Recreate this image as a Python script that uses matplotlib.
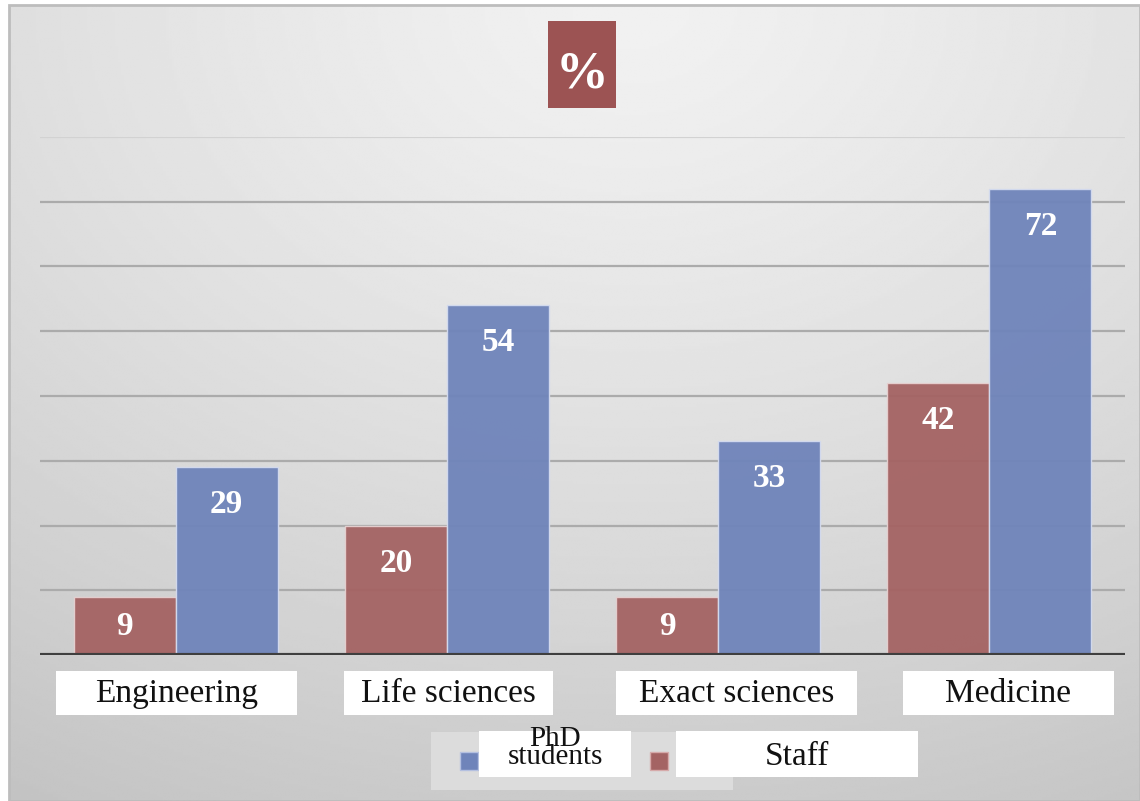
import matplotlib

matplotlib.use("Agg")
import matplotlib.pyplot as plt
import numpy as np
from matplotlib.patches import Rectangle

categories = ["Engineering", "Life sciences", "Exact sciences", "Medicine"]
staff = [9, 20, 9, 42]
phd = [29, 54, 33, 72]
series_names = ["PhD\nstudents", "Staff"]

RED = "#A46363"
BLUE = "#6F84BA"
TITLE_RED = "#9C5353"
SERIF = ["Liberation Serif", "DejaVu Serif"]

W, H = 1140, 801
fig = plt.figure(figsize=(W / 100, H / 100), dpi=100)
fig.patch.set_facecolor("white")


def fx(px):
    return px / W


def fy(py):
    return 1 - py / H


def box(x0, y0, x1, y1, color, z=2, edge="none"):
    # rectangle given in pixel coords (top-left origin)
    fig.patches.append(Rectangle((fx(x0), fy(y1)), fx(x1) - fx(x0), fy(y0) - fy(y1),
                                 transform=fig.transFigure, facecolor=color,
                                 edgecolor=edge, linewidth=1, zorder=z))


# gradient backdrop (light top centre, darker towards the corners)
bg = fig.add_axes([fx(9), 0, 1 - fx(9), fy(5)], zorder=0)
yy, xx = np.mgrid[0:1:300j, 0:1:400j]
dist = np.sqrt((xx - 0.55) ** 2 + ((yy - 0.0) * 0.95) ** 2)
shade = 0.945 - 0.16 * np.clip(dist, 0, 1.2) ** 1.3
bg.imshow(shade, cmap="gray", vmin=0, vmax=1, aspect="auto",
          extent=[0, 1, 1, 0], interpolation="bilinear")
bg.set_xlim(0, 1)
bg.set_ylim(1, 0)
bg.axis("off")
bg.add_patch(Rectangle((0, 0), 1, 1, transform=bg.transAxes, fill=False,
                       edgecolor="#bdbdbd", linewidth=2, clip_on=False))

ax = fig.add_axes([fx(40), fy(655), fx(1125) - fx(40), fy(137) - fy(655)], zorder=1)
ax.patch.set_alpha(0)

x = np.arange(len(categories))
w = 0.376
for v in range(10, 81, 10):
    ax.axhline(v, color="#ababab" if v < 80 else "#d2d2d2", linewidth=1.6, zorder=1)

b_staff = ax.bar(x - w / 2, staff, w, color=RED, edgecolor="#e6d0d0",
                 linewidth=1.0, alpha=0.95, zorder=2)
b_phd = ax.bar(x + w / 2, phd, w, color=BLUE, edgecolor="#d4dbef",
               linewidth=1.0, alpha=0.95, zorder=2)
ax.axhline(0, color="#3f3f3f", linewidth=3, zorder=3)

ax.set_xlim(-0.5, len(categories) - 0.5)
ax.set_ylim(0, 80)
ax.axis("off")

px_per_unit = (655 - 137) / 80
for bars, vals in ((b_staff, staff), (b_phd, phd)):
    for bar, v in zip(bars, vals):
        off_px = min(34.5, v * px_per_unit / 2 - 2) + 11.5
        ax.annotate(str(v), (bar.get_x() + bar.get_width() / 2, v),
                    xytext=(0, -off_px * 0.72), textcoords="offset points",
                    ha="center", va="baseline", color="white", fontsize=24,
                    fontweight="bold", family=SERIF, zorder=4)

# category labels in white boxes
label_boxes = [(56, 297), (344, 553), (616, 857), (903, 1114)]
for name, (x0, x1) in zip(categories, label_boxes):
    box(x0, 671, x1, 715, "white")
    fig.text(fx((x0 + x1) / 2), fy(702), name, ha="center", va="baseline",
             fontsize=24, family=SERIF, color="#111111", zorder=3)

# title box
box(548, 21, 616, 108, TITLE_RED)
fig.text(fx(582), fy(87), "%", ha="center", va="baseline", color="white",
         fontsize=38, fontweight="bold", family=SERIF, zorder=3)

# legend
box(431, 732, 733, 790, "#dcdcdc")
legend_items = [(BLUE, "#b4c0e0", 460, (479, 631)), (RED, "#d6aaaa", 650, (676, 918))]
for (col, edge, mx, (x0, x1)), name in zip(legend_items, series_names):
    box(mx, 752, mx + 18, 770, col, z=3, edge=edge)
    box(x0, 731, x1, 777, "white", z=3)
    lines = name.split("\n")
    if len(lines) == 1:
        baselines = [765]
    else:
        baselines = [746, 764]
    for line, yb in zip(lines, baselines):
        fig.text(fx((x0 + x1) / 2), fy(yb), line, ha="center", va="baseline",
                 fontsize=21 if len(lines) > 1 else 24, family=SERIF,
                 color="#111111", zorder=4)

fig.savefig("out.png", dpi=100)
